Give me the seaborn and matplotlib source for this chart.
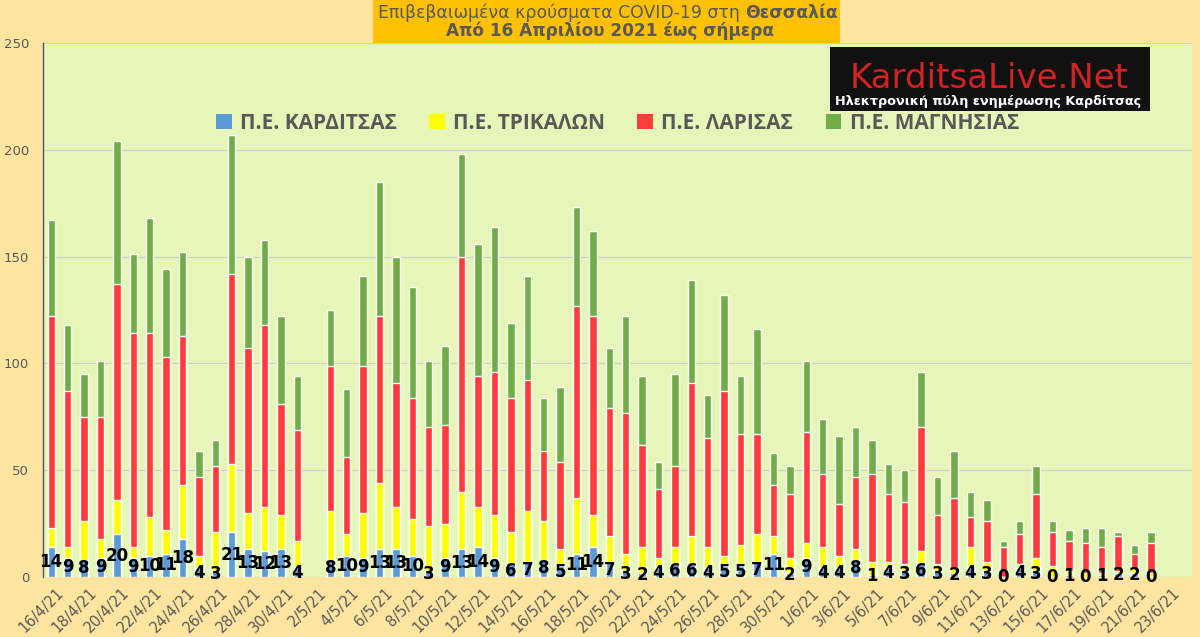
import numpy as np
import pandas as pd
import matplotlib
matplotlib.use('Agg')
import matplotlib.pyplot as plt
import matplotlib.transforms as mtransforms
import seaborn as sns
from matplotlib.patches import Patch, Rectangle

nan = np.nan

# dates 16/4/21 .. 24/6/21 (one category per day)
dates = [f'{d.day}/{d.month}/21' for d in pd.date_range('2021-04-16', '2021-06-24')]

# daily cases per regional unit (2/5, 23/6, 24/6 have no data)
karditsa = [14, 9, 8, 9, 20, 9, 10, 11, 18, 4, 3, 21, 13, 12, 13, 4, nan,
            8, 10, 9, 13, 13, 10, 3, 9, 13, 14, 9, 6, 7, 8, 5, 11, 14, 7, 3, 2,
            4, 6, 6, 4, 5, 5, 7, 11, 2, 9, 4, 4, 8, 1, 4, 3, 6, 3, 2, 4,
            3, 0, 4, 3, 0, 1, 0, 1, 2, 2, 0, nan, nan]
trikala = [9, 5, 18, 9, 16, 5, 18, 11, 25, 6, 18, 32, 17, 21, 16, 13, nan,
           23, 10, 21, 31, 20, 17, 21, 16, 27, 19, 20, 15, 24, 18, 8, 26, 15, 12, 8, 12,
           5, 8, 13, 10, 5, 10, 13, 8, 7, 7, 10, 6, 5, 6, 3, 3, 6, 3, 2, 10,
           4, 0, 2, 6, 5, 2, 2, 1, 1, 2, 2, nan, nan]
larisa = [99, 73, 49, 57, 101, 100, 86, 81, 70, 37, 31, 89, 77, 85, 52, 52, nan,
          68, 36, 69, 78, 58, 57, 46, 46, 110, 61, 67, 63, 61, 33, 41, 90, 93, 60, 66, 48,
          32, 38, 72, 51, 77, 52, 47, 24, 30, 52, 34, 24, 34, 41, 32, 29, 58, 23, 33, 14,
          19, 14, 14, 30, 16, 14, 14, 12, 16, 7, 14, nan, nan]
magnisia = [45, 31, 20, 26, 67, 37, 54, 41, 39, 12, 12, 65, 43, 40, 41, 25, nan,
            26, 32, 42, 63, 59, 52, 31, 37, 48, 62, 68, 35, 49, 25, 35, 46, 40, 28, 45, 32,
            13, 43, 48, 20, 45, 27, 49, 15, 13, 33, 26, 32, 23, 16, 14, 15, 26, 18, 22, 12,
            10, 3, 6, 13, 5, 5, 7, 9, 2, 4, 5, nan, nan]

names = ['Π.Ε. ΚΑΡΔΙΤΣΑΣ', 'Π.Ε. ΤΡΙΚΑΛΩΝ', 'Π.Ε. ΛΑΡΙΣΑΣ', 'Π.Ε. ΜΑΓΝΗΣΙΑΣ']
colors = ['#5B9BD5', '#FFFF00', '#FF3B3B', '#70AD47']

df = pd.DataFrame({'date': dates, 'k': karditsa, 't': trikala, 'l': larisa, 'm': magnisia})
df['c1'] = df.k
df['c2'] = df.c1 + df.t
df['c3'] = df.c2 + df.l
df['c4'] = df.c3 + df.m

sns.set_style('white')
plt.rcParams['font.family'] = ['DejaVu Sans']

fig = plt.figure(figsize=(12, 6.37), dpi=100)
fig.patch.set_facecolor('#FFE5A0')
ax = fig.add_axes([43/1200, 1 - 577/637, 1149/1200, 534/637])
ax.set_facecolor('#E6F6B8')

# stacked look: draw the cumulative totals from the top down
for col, c in zip(['c4', 'c3', 'c2', 'c1'], colors[::-1]):
    sns.barplot(data=df.dropna(subset=[col]), x='date', y=col, order=dates, color=c,
                width=0.45, saturation=1, errorbar=None, ax=ax, zorder=3)

for i, v in enumerate(karditsa):
    if not np.isnan(v):
        ax.text(i, v / 2, str(int(v)), ha='center', va='center', fontsize=12,
                fontweight='bold', color='black', zorder=5)

ax.set_xlim(-0.5, len(dates) - 0.5)
ax.set_ylim(0, 250)
ax.set_yticks(range(0, 251, 50))
ax.yaxis.grid(True, color='#CFCFCF', lw=0.8, zorder=0)
ax.set_axisbelow(True)
ax.tick_params(axis='y', length=0, pad=10, labelsize=9.5, labelcolor='#595959')
ax.set_xticks(range(0, len(dates), 2))
ax.set_xticklabels(dates[::2], rotation=45, ha='right', rotation_mode='anchor',
                   fontsize=10.5, color='#595959')
ax.tick_params(axis='x', length=0, pad=6)
shift = mtransforms.ScaledTranslation(5/100, 0, fig.dpi_scale_trans)
for lab in ax.get_xticklabels():
    lab.set_transform(lab.get_transform() + shift)
ax.set_xlabel('')
ax.set_ylabel('')
for s in ['top', 'right', 'bottom']:
    ax.spines[s].set_visible(False)
ax.spines['left'].set_color('#44546A')
ax.spines['left'].set_linewidth(1)

handles = [Patch(facecolor=c, edgecolor='none') for c in colors]
leg = ax.legend(handles, names, ncol=4, loc='center', bbox_to_anchor=(0.5, 0.85),
                frameon=False, handlelength=0.75, handleheight=0.75, handletextpad=0.4,
                columnspacing=1.55, prop={'family': 'Open Sans', 'weight': 'bold', 'size': 15})
for t in leg.get_texts():
    t.set_color('#595959')

# title box
fig.patches.append(Rectangle((373/1200, 1 - 43/637), 467/1200, 43/637,
                             transform=fig.transFigure, facecolor='#FFC000',
                             edgecolor='none', zorder=1))
t1 = fig.text(378/1200, 1 - 13/637, 'Επιβεβαιωμένα κρούσματα COVID-19 στη ',
              ha='left', va='center', fontsize=12.4, color='#595959')
fig.canvas.draw()
bb = t1.get_window_extent()
fig.text(bb.x1 / 1200, 1 - 13/637, 'Θεσσαλία', ha='left', va='center',
         fontsize=12.4, fontweight='bold', color='#595959')
fig.text(610/1200, 1 - 31/637, 'Από 16 Απριλίου 2021 έως σήμερα', ha='center',
         va='center', fontsize=12.2, fontweight='bold', color='#595959')

# site logo
fig.patches.append(Rectangle((830/1200, 1 - 111/637), 320/1200, 64/637,
                             transform=fig.transFigure, facecolor='#111111',
                             edgecolor='none', zorder=4))
fig.text(989/1200, 1 - 79/637, 'KarditsaLive.Net', ha='center', va='center',
         fontsize=24.5, color='#D42222', zorder=5)
fig.text(988/1200, 1 - 102/637, 'Ηλεκτρονική πύλη ενημέρωσης Καρδίτσας', ha='center',
         va='center', fontsize=9.2, fontweight='bold', color='white', zorder=5)

fig.savefig('out.png', dpi=100, facecolor=fig.get_facecolor())
